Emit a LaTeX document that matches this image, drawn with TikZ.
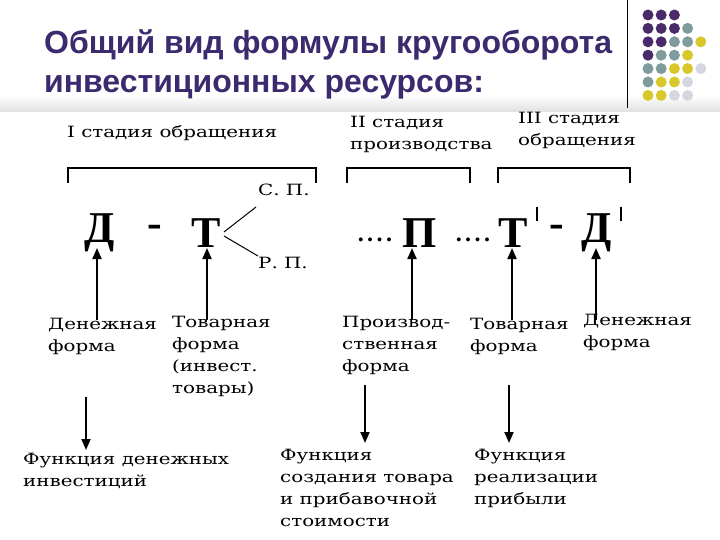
\documentclass[tikz,border=0pt]{standalone}
\usepackage{fontspec}
\setmainfont{DejaVu Serif}[FakeStretch=1.28]
\newfontfamily\titlef{Liberation Sans}
\newfontfamily\bigf{Liberation Serif}
\usetikzlibrary{arrows.meta}
\definecolor{tpurple}{HTML}{3B2A6E}
\definecolor{dP}{HTML}{4A2A6A}
\definecolor{dG}{HTML}{7F9C9C}
\definecolor{dY}{HTML}{D8C82A}
\definecolor{dL}{HTML}{D6D6E0}
\begin{document}
\begin{tikzpicture}[x=1pt,y=-1pt,
  txt/.style={anchor=north west,inner sep=0pt,align=left,font=\fontsize{15.5}{22}\selectfont},
  big/.style={inner sep=0pt,font=\bigf\bfseries\fontsize{44}{44}\selectfont},
  dts/.style={inner sep=0pt,font=\bigf\bfseries\fontsize{24}{24}\selectfont},
  up/.style={line width=2pt,-{Triangle[length=11pt,width=9pt]}},
  brk/.style={line width=2.2pt},
  dot/.style={circle,inner sep=0pt,minimum size=11pt}]
\useasboundingbox (0,0) rectangle (720,540);
\fill[white] (0,0) rectangle (720,540);
\shade[top color=white,bottom color=black!12] (0,95) rectangle (720,112);
% title
\node[anchor=west,inner sep=0pt,text=tpurple,font=\titlef\bfseries\fontsize{32}{36}\selectfont] (t1) at (44,45) {Общий вид формулы кругооборота};
\node[anchor=west,inner sep=0pt,text=tpurple,font=\titlef\bfseries\fontsize{32}{36}\selectfont] (t2) at (44,87) {инвестиционных ресурсов:};
\draw[line width=1pt] (627,0) -- (627,108);
% dots
\foreach \r/\row in {0/{P,P,P},1/{P,P,P,G},2/{P,P,G,G,Y},3/{P,G,G,Y},4/{G,G,Y,Y,L},5/{G,Y,Y,L},6/{Y,Y,L,L}}{
  \foreach \c [count=\i from 0] in \row {
    \node[dot,fill=d\c] (d\r\i) at (648+13.2*\i,15+13.4*\r) {};
  }
}
% stage labels
\node[txt] (s1) at (67,125) {I стадия обращения};
\node[txt] (s2) at (350,116) {II стадия\\производства};
\node[txt] (s3) at (518,112) {III стадия\\обращения};
% brackets
\draw[brk] (68,183) -- (68,168) -- (316,168) -- (316,183);
\draw[brk] (347,183) -- (347,168) -- (470,168) -- (470,183);
\draw[brk] (498,183) -- (498,168) -- (630,168) -- (630,183);
% formula
\node[big] (D1) at (100,233) {Д};
\node[big] (m1) at (155,231) {-};
\node[big] (T1) at (206,233) {Т};
\node[txt] (sp) at (258,184) {С. П.};
\node[txt] (rp) at (258,257) {Р. П.};
\draw[line width=1pt] (224,232) -- (256,207);
\draw[line width=1pt] (224,236) -- (258,256);
\node[dts] (dt1) at (375,240) {.\hspace{3.5pt}.\hspace{3.5pt}.\hspace{3.5pt}.};
\node[big] (P) at (420,233) {П};
\node[dts] (dt2) at (473,240) {.\hspace{3.5pt}.\hspace{3.5pt}.\hspace{3.5pt}.};
\node[big] (T2) at (513,233) {Т};
\draw[line width=1.5pt] (537,207) -- (537,221);
\node[big] (m2) at (557,231) {-};
\node[big] (D2) at (597,233) {Д};
\draw[line width=1.5pt] (621,207) -- (621,221);
% lower labels
\node[txt] (l1) at (48,318) {Денежная\\форма};
\node[txt] (l2) at (172,316) {Товарная\\форма\\(инвест.\\товары)};
\node[txt] (l3) at (342,316) {Производ-\\ственная\\форма};
\node[txt] (l4) at (470,318) {Товарная\\форма};
\node[txt] (l5) at (583,314) {Денежная\\форма};
% up arrows
\coordinate (a1) at (97,320); \coordinate (a2) at (207,320); \coordinate (a3) at (412,320);
\coordinate (a4) at (512,320); \coordinate (a5) at (596,320);
\draw[up] (a1) -- (97,248);
\draw[up] (a2) -- (207,248);
\draw[up] (a3) -- (412,248);
\draw[up] (a4) -- (512,248);
\draw[up] (a5) -- (596,248);
% functions
\node[txt] (f1) at (23,453) {Функция денежных\\инвестиций};
\node[txt] (f2) at (280,449) {Функция\\создания товара\\и прибавочной\\стоимости};
\node[txt] (f3) at (474,449) {Функция\\реализации\\прибыли};
\draw[up] (86,397) -- (86,450);
\draw[up] (365,385) -- (365,443);
\draw[up] (509,385) -- (509,443);
\end{tikzpicture}
\end{document}
